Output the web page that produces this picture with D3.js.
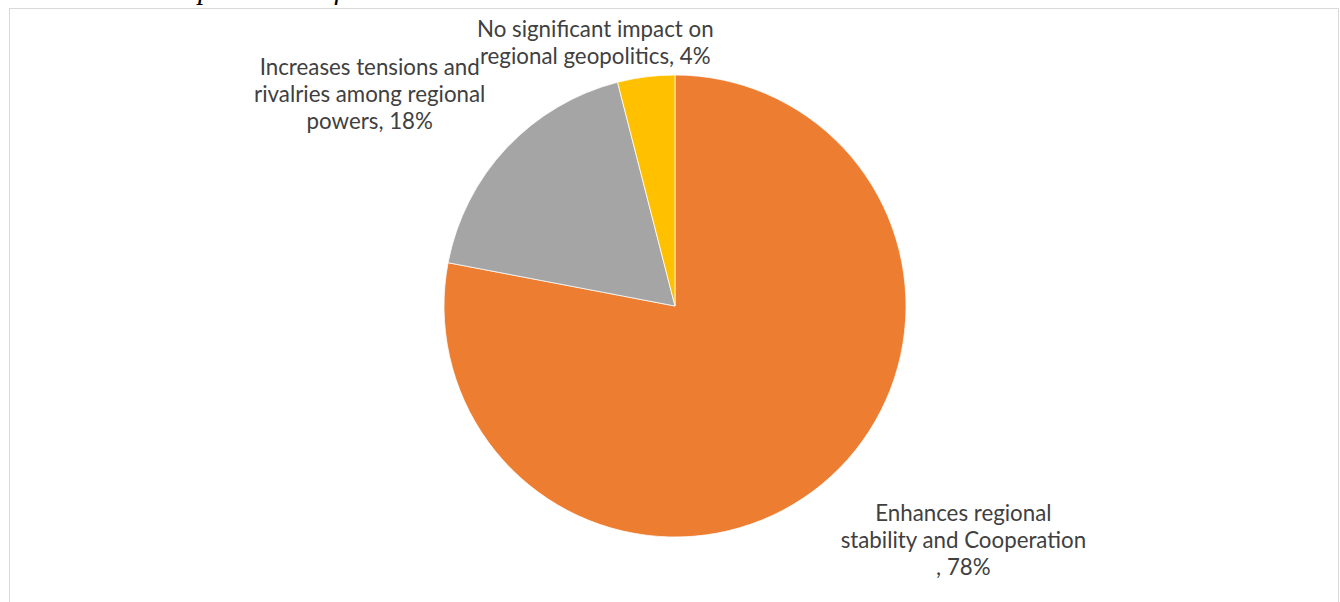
<!DOCTYPE html>
<html>
<head>
<meta charset="utf-8">
<script src="https://cdn.jsdelivr.net/npm/d3@7"></script>
<style>
  body { margin: 0; background: #fff; overflow: hidden; }
</style>
</head>
<body>
<svg id="canvas" width="1340" height="602"></svg>
<script>
// chart data
const categories = [
  "Enhances regional stability and Cooperation",
  "Increases tensions and rivalries among regional powers",
  "No significant impact on regional geopolitics"
];
const shares = [78, 18, 4];
const sliceColors = ["#ED7D31", "#A5A5A5", "#FFC000"];
// label text lines, as wrapped in the picture
const labelLines = [
  ["Enhances regional", "stability and Cooperation", ", 78%"],
  ["Increases tensions and", "rivalries among regional", "powers, 18%"],
  ["No significant impact on", "regional geopolitics, 4%"]
];

let svg = d3.select("#canvas");

let width = 1340, height = 602;
let cx = 675, cy = 306, radius = 231;

// cut off title above the chart box
svg.append("text")
  .attr("x", 4)
  .attr("y", -1)
  .attr("font-family", "Liberation Serif")
  .attr("font-style", "italic")
  .attr("font-size", 29)
  .attr("fill", "#000")
  .text("Geo-Political implications of CPEC");

// chart area frame
svg.append("rect")
  .attr("x", 9.5)
  .attr("y", 8.5)
  .attr("width", 1329)
  .attr("height", 700)
  .attr("fill", "#fff")
  .attr("stroke", "#d9d9d9")
  .attr("stroke-width", 1);

let pie = d3.pie().sort(null).value(d => d);
let arcs = pie(shares);

let arc = d3.arc().innerRadius(0).outerRadius(radius);
let labelArc = d3.arc().innerRadius(radius + 30).outerRadius(radius + 30);

let g = svg.append("g").attr("transform", `translate(${cx},${cy})`);

g.selectAll(".slice")
  .data(arcs)
  .enter()
  .append("path")
  .classed("slice", true)
  .attr("d", arc)
  .attr("fill", (d, i) => sliceColors[i])
  .attr("stroke", "#fff")
  .attr("stroke-width", 0.75);

// labels sit outside the pie, nudged like Excel does
let nudge = [[122, 14], [-115, -52], [-47, -10]];
let lineH = 27;

g.selectAll(".lbl")
  .data(arcs)
  .enter()
  .append("text")
  .classed("lbl", true)
  .attr("font-family", "Lato")
  .attr("font-size", 22.3)
  .attr("fill", "#404040")
  .attr("text-anchor", "middle")
  .each(function(d, i) {
    let p = labelArc.centroid(d);
    let x = p[0] + nudge[i][0];
    let y = p[1] + nudge[i][1];
    d3.select(this).selectAll("tspan")
      .data(labelLines[i])
      .enter()
      .append("tspan")
      .attr("x", x)
      .attr("y", (t, j) => y + j * lineH)
      .text(t => t);
  });
</script>
</body>
</html>
